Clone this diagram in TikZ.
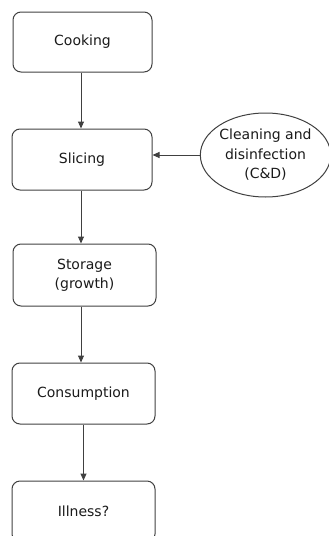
\documentclass[tikz,border=0pt]{standalone}
\usepackage{fontspec}
\setmainfont{DejaVu Sans}
\usetikzlibrary{arrows.meta,shapes.geometric}
\definecolor{ln}{HTML}{404040}
\definecolor{tx}{HTML}{1A1A1A}
\begin{document}
\begin{tikzpicture}[x=1pt,y=-1pt,
  box/.style={draw=ln,line width=1pt,rounded corners=8pt,text=tx,align=center,font=\fontsize{14}{19}\selectfont,inner sep=0pt},
  oval/.style={draw=ln,line width=1pt,ellipse,text=tx,align=center,font=\fontsize{14}{19.5}\selectfont,inner sep=0pt,minimum width=125pt,minimum height=84pt},
  arr/.style={draw=ln,line width=1pt,-{Triangle[length=7pt,width=6pt]}}]
\useasboundingbox (0,0) rectangle (329,536);
\node[box,minimum width=139pt,minimum height=60pt] (cook) at (82.5,42) {Cooking};
\node[box,minimum width=140pt,minimum height=61pt] (slice) at (82,159.5) {Slicing};
\node[oval] (cd) at (265.5,155) {Cleaning and\\disinfection\\(C\&D)};
\node[box,minimum width=143pt,minimum height=62pt] (store) at (84.5,275) {Storage\\(growth)};
\node[box,minimum width=143pt,minimum height=61pt] (cons) at (83.5,393.5) {Consumption};
\node[box,minimum width=143pt,minimum height=61pt] (ill) at (83.5,511.5) {Illness?};
\draw[arr] (cook.south) ++(-1.5,0) coordinate (c1) -- (c1 |- slice.north);
\draw[arr] (cd.west) -- (cd.west -| slice.east);
\draw[arr] (slice.south) ++(-1,0) coordinate (c2) -- (c2 |- store.north);
\draw[arr] (store.south) ++(-3.5,0) coordinate (c3) -- (c3 |- cons.north);
\draw[arr] (cons.south) coordinate (c4) -- (c4 |- ill.north);
\end{tikzpicture}
\end{document}
